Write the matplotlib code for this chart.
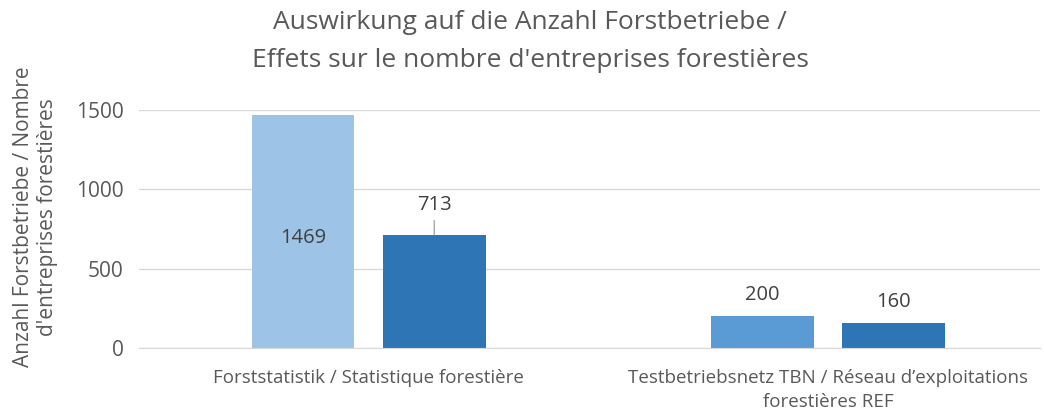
import numpy as np
import matplotlib.pyplot as plt

plt.rcParams['font.family'] = ['Open Sans', 'DejaVu Sans']

categories = ["Forststatistik / Statistique forestière",
              "Testbetriebsnetz TBN / Réseau d’exploitations\nforestières REF"]
series_a = [1469, 200]
series_b = [713, 160]
colors_a = ["#9DC3E6", "#5B9BD5"]
colors_b = ["#2E75B6", "#2E75B6"]
yticks = [0, 500, 1000, 1500]

grey = "#595959"

fig = plt.figure(figsize=(10.44, 4.12), dpi=100)
ax = fig.add_axes([139 / 1044, 1 - 348 / 412, (1040 - 139) / 1044, (348 - 110) / 412])

x = np.arange(len(categories))
w = 0.224
off = 0.143
bars_a = ax.bar(x - off, series_a, w, color=colors_a, zorder=2)
bars_b = ax.bar(x + off, series_b, w, color=colors_b, zorder=2)

ax.set_xlim(-0.5, 1.462)
ax.set_ylim(0, 1500)
ax.set_yticks(yticks)
ax.set_yticklabels([str(t) for t in yticks])
ax.yaxis.grid(True, color="#D9D9D9", linewidth=1)
ax.set_axisbelow(True)
for s in ["top", "right", "left"]:
    ax.spines[s].set_visible(False)
ax.spines["bottom"].set_color("#D9D9D9")
ax.tick_params(axis="y", length=0, labelsize=15, colors=grey, pad=11)
ax.tick_params(axis="x", length=0, labelsize=13.5, colors=grey, pad=15)
ax.set_xticks(x)
ax.set_xticklabels(categories, linespacing=1.45)

# data labels
lbl = dict(fontsize=14.5, color="#404040")
ax.text(x[0] - off, series_a[0] / 2 - 40, str(series_a[0]), ha="center", va="center", **lbl)
ax.text(x[1] - off, series_a[1] + 70, str(series_a[1]), ha="center", va="bottom", **lbl)
ax.text(x[1] + off, series_b[1] + 70, str(series_b[1]), ha="center", va="bottom", **lbl)
ax.annotate(str(series_b[0]), xy=(x[0] + off, series_b[0]),
            xytext=(x[0] + off, series_b[0] + 125), ha="center", va="bottom",
            arrowprops=dict(arrowstyle="-", color="#A6A6A6", lw=1,
                            shrinkA=2, shrinkB=0), **lbl)

ax.set_ylabel("Anzahl Forstbetriebe / Nombre\nd'entreprises forestières",
              fontsize=15, color=grey, linespacing=1.2)
ax.yaxis.set_label_coords(-0.09, 0.55)

fig.text(0.508, 0.975, "Auswirkung auf die Anzahl Forstbetriebe /\nEffets sur le nombre d'entreprises forestières",
         ha="center", va="top", fontsize=19, color=grey, linespacing=1.65)

fig.savefig("out.png", dpi=100)
